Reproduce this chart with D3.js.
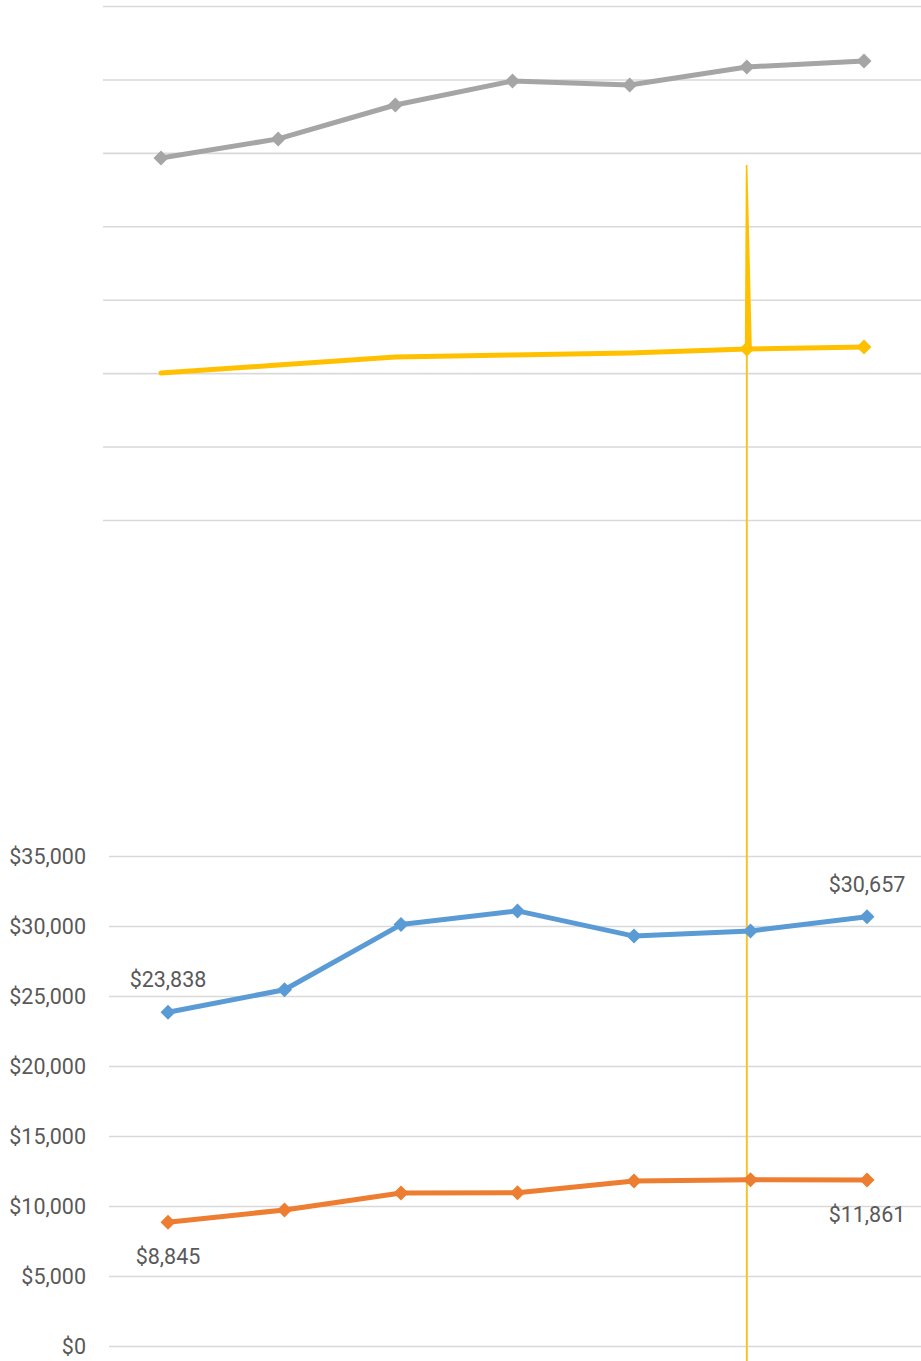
<!DOCTYPE html>
<html>
<head>
<meta charset="utf-8">
<script src="https://cdn.jsdelivr.net/npm/d3@7"></script>
<style>
  html, body { margin: 0; padding: 0; background: #fff; }
  svg { display: block; }
  text { font-family: Roboto, "Liberation Sans", sans-serif; }
</style>
</head>
<body>
<svg id="chart" width="921" height="1361"></svg>
<script>
// Periods along the x axis (not labelled on the chart)
const periods = ["2012", "2013", "2014", "2015", "2016", "2017", "2018"];

// Upper panel series
const greySeries   = [24650, 25950, 28260, 29890, 29620, 30850, 31250];
const yellowSeries = [10010, 10550, 11100, 11240, 11370, 11640, 11780];
const upperTicks   = [0, 5000, 10000, 15000, 20000, 25000, 30000, 35000];

// Lower panel series
const blueSeries   = [23838, 25450, 30100, 31080, 29280, 29650, 30657];
const orangeSeries = [8845, 9720, 10930, 10950, 11790, 11870, 11861];
const lowerTicks   = [0, 5000, 10000, 15000, 20000, 25000, 30000, 35000];

// Labelled points: [index, position]
const blueLabels   = [[0, "above"], [6, "above"]];
const orangeLabels = [[0, "below"], [6, "below"]];

// Highlighted period (vertical marker)
const highlightIndex = 5;

const svg = d3.select("#chart");
const fmt = v => "$" + d3.format(",")(v);
const textColor = "#595959";
const gridColor = "#D9D9D9";
const fontSize = "21.5px";

// ---------- Upper panel ----------
const upX = d3.scalePoint().domain(periods).range([161, 864]);
const upY = d3.scaleLinear().domain([0, 35000]).range([520, 6]);

const upGrid = svg.append("g")
  .attr("transform", "translate(103,0)")
  .call(d3.axisLeft(upY).tickValues(upperTicks).tickSize(-(921 - 103)).tickFormat(""));
upGrid.select(".domain").remove();
upGrid.selectAll(".tick line").attr("stroke", gridColor).attr("stroke-width", 1.6);

// ---------- Lower panel ----------
const loX = d3.scalePoint().domain(periods).range([168, 867]);
const loY = d3.scaleLinear().domain([0, 35000]).range([1346, 856]);

const loGrid = svg.append("g")
  .attr("transform", "translate(109,0)")
  .call(d3.axisLeft(loY).tickValues(lowerTicks).tickSize(-(921 - 109)).tickPadding(23).tickFormat(fmt));
loGrid.select(".domain").remove();
loGrid.selectAll(".tick line").attr("stroke", gridColor).attr("stroke-width", 1.6);
loGrid.selectAll(".tick text")
  .attr("fill", textColor)
  .style("font-size", fontSize)
  .attr("dy", "0.36em");

// ---------- Highlight marker at the selected period ----------
const hx = upX(periods[highlightIndex]);
const hy = upY(yellowSeries[highlightIndex]);
const gold = "#FFC000";

svg.append("line")
  .attr("x1", hx).attr("x2", hx)
  .attr("y1", hy).attr("y2", 1361)
  .attr("stroke", "#F8C22A").attr("stroke-width", 2);

// tapered spike rising from the highlighted point
svg.append("path")
  .attr("d", d3.line()([[hx - 1, 165], [hx + 0.6, 165], [hx + 5, hy], [hx - 2, hy]]) + "Z")
  .attr("fill", gold);

// ---------- Series drawing ----------
function diamond(g, data, x, y, color, size, idxs) {
  g.selectAll(null)
    .data(idxs.map(i => [periods[i], data[i]]))
    .join("path")
    .attr("d", d3.symbol().type(d3.symbolSquare).size(size * size / 2)())
    .attr("transform", d => `translate(${x(d[0])},${y(d[1])}) rotate(45)`)
    .attr("fill", color);
}

function series(data, x, y, color, markerIdx) {
  const g = svg.append("g");
  g.append("path")
    .datum(data)
    .attr("d", d3.line().x((d, i) => x(periods[i])).y(d => y(d)))
    .attr("fill", "none")
    .attr("stroke", color)
    .attr("stroke-width", 5)
    .attr("stroke-linejoin", "round")
    .attr("stroke-linecap", "round");
  diamond(g, data, x, y, color, 15, markerIdx);
  return g;
}

const allIdx = d3.range(periods.length);
series(greySeries, upX, upY, "#A5A5A5", allIdx);
series(yellowSeries, upX, upY, gold, [5, 6]);
series(blueSeries, loX, loY, "#5B9BD5", allIdx);
series(orangeSeries, loX, loY, "#ED7D31", allIdx);

// ---------- Data labels ----------
function labels(data, list) {
  svg.append("g").selectAll("text")
    .data(list)
    .join("text")
    .attr("x", d => loX(periods[d[0]]))
    .attr("y", d => loY(data[d[0]]) + (d[1] === "above" ? -25 : 42))
    .attr("text-anchor", "middle")
    .attr("fill", textColor)
    .style("font-size", fontSize)
    .text(d => fmt(data[d[0]]));
}
labels(blueSeries, blueLabels);
labels(orangeSeries, orangeLabels);
</script>
</body>
</html>
